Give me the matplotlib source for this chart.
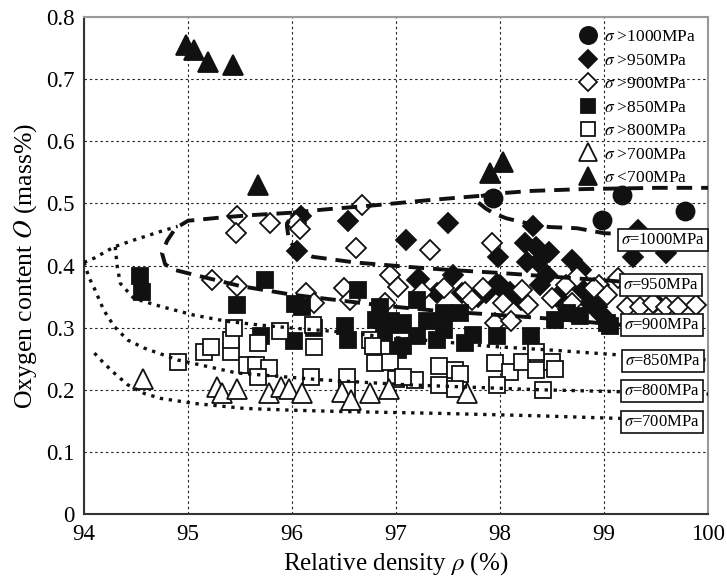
import matplotlib
matplotlib.use("Agg")
import matplotlib.pyplot as plt
from matplotlib.lines import Line2D

plt.rcParams['font.family'] = ['Liberation Serif', 'DejaVu Serif']
plt.rcParams['mathtext.fontset'] = 'stix'

# ---------------- data ----------------
gt1000_x = [97.93, 98.98, 99.17, 99.78]
gt1000_y = [0.508, 0.473, 0.514, 0.487]

gt950_x = [96.09, 96.54, 96.05, 97.10, 97.50, 97.98, 98.32, 98.24, 98.35, 98.47, 98.26, 98.37,
           98.69, 98.78, 98.45, 98.38, 97.97, 98.80, 98.87, 98.96, 99.28, 99.33, 99.60, 97.22,
           97.55, 97.39, 97.63, 97.79, 98.00, 98.06, 97.87, 98.10, 99.49, 98.20, 98.55, 98.65,
           98.93, 98.98, 97.20]
gt950_y = [0.480, 0.472, 0.424, 0.441, 0.469, 0.414, 0.463, 0.436, 0.430, 0.422, 0.406, 0.406,
           0.409, 0.393, 0.385, 0.369, 0.371, 0.361, 0.339, 0.323, 0.414, 0.457, 0.420, 0.378,
           0.385, 0.355, 0.355, 0.350, 0.369, 0.355, 0.355, 0.358, 0.342, 0.345, 0.350, 0.330,
           0.334, 0.320, 0.377]

gt900_x = [95.47, 95.46, 95.79, 96.04, 96.08, 95.23, 95.47, 96.13, 96.21, 96.67, 96.62, 97.33,
           96.94, 97.02, 96.50, 96.56, 97.92, 96.89, 97.25, 97.46, 97.66, 97.84, 97.73, 98.03,
           97.95, 98.11, 98.21, 98.27, 98.50, 98.63, 98.69, 98.95, 99.03, 99.13, 99.22, 99.35,
           99.47, 99.60, 99.71, 99.88, 98.74, 98.90]
gt900_y = [0.479, 0.452, 0.469, 0.468, 0.459, 0.377, 0.367, 0.356, 0.340, 0.497, 0.428, 0.425,
           0.385, 0.366, 0.363, 0.345, 0.436, 0.339, 0.358, 0.363, 0.358, 0.363, 0.345, 0.339,
           0.307, 0.310, 0.361, 0.337, 0.347, 0.369, 0.339, 0.369, 0.353, 0.380, 0.334, 0.334,
           0.339, 0.334, 0.334, 0.337, 0.382, 0.363]

gt850_x = [94.54, 94.56, 95.47, 95.74, 96.03, 96.10, 95.70, 96.02, 96.21, 96.51, 96.54, 96.81,
           97.04, 96.88, 97.02, 97.20, 97.46, 97.39, 97.66, 97.74, 97.46, 97.62, 97.20, 96.85,
           97.97, 98.30, 97.07, 98.53, 98.77, 99.03, 97.07, 98.64, 99.06, 96.63, 96.95, 97.30]
gt850_y = [0.383, 0.358, 0.337, 0.376, 0.338, 0.334, 0.287, 0.278, 0.299, 0.302, 0.280, 0.312,
           0.304, 0.291, 0.264, 0.286, 0.296, 0.280, 0.275, 0.288, 0.323, 0.323, 0.345, 0.334,
           0.286, 0.286, 0.307, 0.312, 0.318, 0.307, 0.270, 0.323, 0.302, 0.361, 0.310, 0.310]

gt800_x = [94.90, 95.15, 95.22, 95.41, 95.41, 95.44, 95.67, 95.88, 95.57, 95.65, 95.78, 95.67,
           96.21, 96.20, 96.18, 96.75, 96.80, 96.94, 96.53, 96.53, 97.00, 97.18, 97.41, 97.57,
           97.62, 97.41, 97.57, 97.95, 98.10, 97.97, 98.21, 98.35, 97.07, 98.50, 98.53, 98.41,
           98.35, 96.78]
gt800_y = [0.244, 0.261, 0.269, 0.261, 0.280, 0.299, 0.275, 0.294, 0.240, 0.240, 0.235, 0.221,
           0.269, 0.304, 0.221, 0.280, 0.243, 0.245, 0.221, 0.200, 0.218, 0.216, 0.238, 0.231,
           0.226, 0.208, 0.202, 0.243, 0.229, 0.208, 0.245, 0.232, 0.221, 0.245, 0.233, 0.200,
           0.261, 0.270]

gt700_x = [94.57, 95.28, 95.33, 95.47, 95.78, 95.89, 95.97, 96.10, 96.48, 96.57, 96.75, 96.93, 97.68]
gt700_y = [0.218, 0.205, 0.194, 0.202, 0.194, 0.205, 0.202, 0.194, 0.197, 0.184, 0.194, 0.202, 0.194]

lt700_x = [94.98, 95.06, 95.19, 95.43, 95.67, 97.90, 98.03]
lt700_y = [0.755, 0.747, 0.728, 0.722, 0.530, 0.549, 0.567]

# strength boundary curves
c1000_x = [99.30, 99.00, 98.74, 98.47, 98.26, 98.06, 97.94, 97.86, 97.78, 97.80, 97.90, 98.30, 98.80, 99.50, 100.0]
c1000_y = [0.450, 0.452, 0.460, 0.462, 0.468, 0.476, 0.484, 0.492, 0.503, 0.511, 0.515, 0.520, 0.523, 0.525, 0.525]

c950_x = [97.80, 97.30, 96.80, 96.30, 96.00, 95.95, 95.97, 96.05, 96.20, 96.60, 97.10, 97.50, 98.00, 98.50, 99.10, 99.30]
c950_y = [0.512, 0.505, 0.497, 0.490, 0.485, 0.465, 0.440, 0.425, 0.414, 0.405, 0.398, 0.393, 0.388, 0.382, 0.375, 0.372]

c900_x = [96.00, 95.60, 95.30, 95.00, 94.88, 94.80, 94.75, 94.78, 94.87, 95.06, 95.50, 96.00, 96.40,
          96.90, 97.40, 98.10, 98.60, 99.10, 99.40, 100.0]
c900_y = [0.485, 0.481, 0.477, 0.472, 0.460, 0.440, 0.420, 0.402, 0.393, 0.385, 0.367, 0.353, 0.345,
          0.335, 0.327, 0.319, 0.313, 0.305, 0.303, 0.300]

cext_x = [94.00, 94.10, 94.29, 94.48, 94.74, 94.90]
cext_y = [0.405, 0.412, 0.430, 0.441, 0.455, 0.463]

c850_x = [94.30, 94.32, 94.35, 94.48, 94.74, 95.06, 95.38, 95.70, 96.02, 96.40, 96.85, 97.40, 97.90,
          98.48, 99.15, 100.0]
c850_y = [0.430, 0.398, 0.371, 0.347, 0.334, 0.320, 0.310, 0.304, 0.299, 0.294, 0.286, 0.278, 0.270,
          0.264, 0.256, 0.248]

c800_x = [94.00, 94.05, 94.10, 94.19, 94.29, 94.42, 94.58, 94.90, 95.47, 96.28, 97.10, 98.38, 99.12, 100.0]
c800_y = [0.405, 0.380, 0.363, 0.328, 0.302, 0.280, 0.267, 0.248, 0.227, 0.216, 0.208, 0.200, 0.197, 0.193]

c700_x = [94.10, 94.19, 94.29, 94.42, 94.58, 94.74, 95.06, 95.54, 96.02, 96.47, 97.42, 98.38, 99.12, 100.0]
c700_y = [0.259, 0.243, 0.227, 0.208, 0.194, 0.186, 0.178, 0.170, 0.167, 0.165, 0.162, 0.158, 0.154, 0.151]

curve_labels = ["$\\sigma$=1000MPa", "$\\sigma$=950MPa", "$\\sigma$=900MPa",
                "$\\sigma$=850MPa", "$\\sigma$=800MPa", "$\\sigma$=700MPa"]
curve_label_x = [99.57, 99.55, 99.56, 99.57, 99.56, 99.56]
curve_label_y = [0.441, 0.369, 0.305, 0.246, 0.198, 0.148]

legend_labels = ["$\\sigma$ >1000MPa", "$\\sigma$ >950MPa", "$\\sigma$ >900MPa", "$\\sigma$ >850MPa",
                 "$\\sigma$ >800MPa", "$\\sigma$ >700MPa", "$\\sigma$ <700MPa"]

x_ticks = [94, 95, 96, 97, 98, 99, 100]
y_ticks = [0, 0.1, 0.2, 0.3, 0.4, 0.5, 0.6, 0.7, 0.8]
y_ticklabels = ["0", "0.1", "0.2", "0.3", "0.4", "0.5", "0.6", "0.7", "0.8"]

# ---------------- plot ----------------
fig = plt.figure(figsize=(7.27, 5.83), dpi=100)
ax = fig.add_axes([84/727, 69/583, 624/727, 497/583])

K = '#111111'
mew = 1.3
series = [
    (gt1000_x, gt1000_y, 'o', K, 13),
    (gt950_x, gt950_y, 'D', K, 10),
    (gt900_x, gt900_y, 'D', 'white', 10),
    (gt850_x, gt850_y, 's', K, 11),
    (gt800_x, gt800_y, 's', 'white', 11),
    (gt700_x, gt700_y, '^', 'white', 14),
    (lt700_x, lt700_y, '^', K, 14),
]
handles = []
for (xs, ys, m, fc, ms), lab in zip(series, legend_labels):
    ax.plot(xs, ys, linestyle='none', marker=m, markersize=ms, markerfacecolor=fc,
            markeredgecolor=K, markeredgewidth=mew, zorder=3)
    handles.append(Line2D([], [], linestyle='none', marker=m, markersize=ms*0.95,
                          markerfacecolor=fc, markeredgecolor=K, markeredgewidth=mew, label=lab))

dash = dict(color=K, linewidth=2.8, linestyle=(0, (4.0, 2.3)), zorder=4, solid_capstyle='butt')
dot = dict(color=K, linewidth=2.4, linestyle=(0, (1.0, 1.7)), zorder=4)
ax.plot(c1000_x, c1000_y, **dash)
ax.plot(c950_x, c950_y, **dash)
ax.plot(c900_x, c900_y, **dash)
ax.plot(cext_x, cext_y, **dot)
ax.plot(c850_x, c850_y, **dot)
ax.plot(c800_x, c800_y, **dot)
ax.plot(c700_x, c700_y, **dot)

for t, x, y in zip(curve_labels, curve_label_x, curve_label_y):
    ax.text(x, y, t, fontsize=12, ha='center', va='center', zorder=6,
            bbox=dict(boxstyle='square,pad=0.18', fc='white', ec=K, lw=1.2))

ax.set_xlim(94, 100)
ax.set_ylim(0, 0.8)
ax.set_xticks(x_ticks)
ax.set_yticks(y_ticks)
ax.set_yticklabels(y_ticklabels)
ax.tick_params(axis='x', length=0, labelsize=16.5, pad=7)
ax.tick_params(axis='y', length=0, labelsize=16.5, pad=7)
ax.grid(True, color='#222222', linestyle=(0, (2.2, 2.6)), linewidth=0.8, zorder=0)
ax.set_axisbelow(True)
for side in ['left', 'bottom']:
    ax.spines[side].set_color('#333333')
    ax.spines[side].set_linewidth(1.5)
for side in ['top', 'right']:
    ax.spines[side].set_color('#999999')
    ax.spines[side].set_linewidth(1.5)

ax.set_xlabel("Relative density $\\rho$ (%)", fontsize=18, labelpad=4)
ax.set_ylabel("Oxygen content $O$ (mass%)", fontsize=18.5, labelpad=5)

leg = ax.legend(handles=handles, loc='upper right', frameon=False, fontsize=12.5,
                handletextpad=0.3, labelspacing=0.42, borderaxespad=0.3, handlelength=1.2)
leg.set_zorder(7)

fig.savefig("out.png", dpi=100)
